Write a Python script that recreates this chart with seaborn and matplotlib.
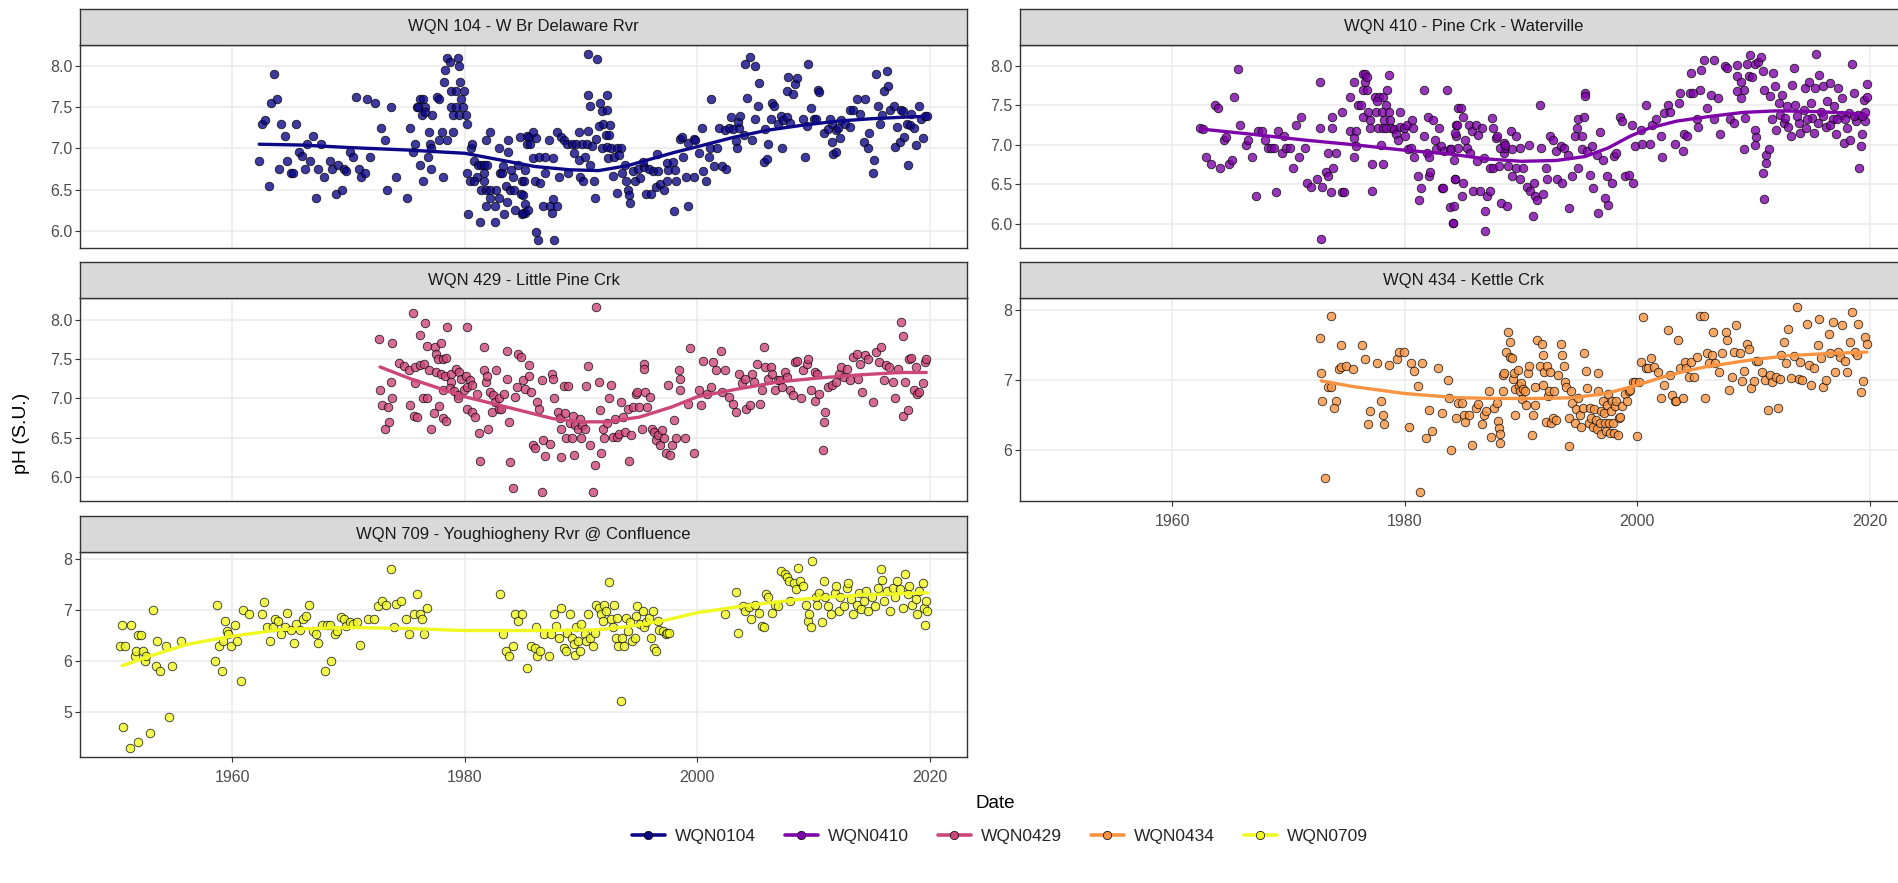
import numpy as np
import pandas as pd
import seaborn as sns
import matplotlib.pyplot as plt
from matplotlib.lines import Line2D
from matplotlib.ticker import FormatStrFormatter

# ---- data (year, pH) ----
wqn0104_pts = [
    (1963.6,7.90),(1963.3,7.55),(1963.8,7.60),(1962.5,7.30),(1962.8,7.34),(1962.3,6.85),(1963.1,6.54),(1964.2,7.30),
    (1964.5,7.15),(1964.0,6.75),(1964.7,6.85),(1965.0,6.70),(1965.2,6.70),(1965.5,7.30),(1965.7,6.95),(1966.0,6.91),
    (1966.2,6.75),(1966.4,7.05),(1966.7,6.85),(1966.9,7.15),(1967.2,6.40),(1967.4,6.75),(1967.6,7.05),(1967.9,6.65),
    (1968.4,6.85),(1968.6,6.75),(1968.9,6.45),(1969.4,6.49),(1969.1,6.80),(1969.6,6.75),(1969.8,6.72),(1970.1,6.95),
    (1970.4,6.90),(1970.6,7.62),(1970.9,6.75),(1971.1,6.65),(1971.4,6.70),(1971.6,7.60),(1971.8,6.90),(1972.3,7.55),
    (1972.8,7.25),(1973.1,7.10),(1973.3,6.49),(1973.6,7.50),(1974.1,6.65),(1975.0,6.40),(1975.3,7.25),(1975.5,6.95),
    (1975.7,7.05),(1975.9,7.50),(1976.1,7.60),(1976.4,7.60),(1976.6,7.50),(1976.0,7.50),(1976.3,7.40),(1976.6,7.44),
    (1976.1,6.80),(1976.4,6.60),(1976.8,6.90),(1976.9,7.20),(1977.0,7.05),(1977.1,7.01),(1977.1,6.75),(1977.2,7.40),
    (1977.6,7.62),(1977.8,7.60),(1977.8,7.10),(1978.0,7.20),(1978.1,6.65),(1978.2,7.80),(1978.3,7.95),(1978.5,8.10),
    (1978.7,8.05),(1979.4,8.10),(1979.5,8.00),(1978.5,7.10),(1978.8,7.70),(1979.2,7.70),(1979.6,7.80),(1979.9,7.70),
    (1978.8,7.50),(1979.2,7.50),(1979.8,7.50),(1979.0,7.40),(1979.5,7.40),(1980.1,7.40),(1979.0,7.20),(1979.7,7.60),
    (1980.2,7.30),(1980.2,6.70),(1980.4,6.60),(1980.3,6.20),(1980.5,7.00),(1980.6,7.05),(1980.8,6.85),(1981.1,6.80),
    (1981.4,6.80),(1981.6,6.80),(1981.9,6.80),(1981.0,6.65),(1980.8,6.60),(1981.3,6.10),(1982.6,6.10),(1981.4,6.49),
    (1981.8,6.49),(1982.2,6.49),(1982.7,6.49),(1981.6,6.70),(1981.6,6.60),(1981.8,7.10),(1982.2,7.20),(1981.8,6.30),
    (1982.2,6.40),(1982.6,6.30),(1982.9,6.40),(1983.4,6.20),(1982.9,7.00),(1983.0,6.70),(1983.2,6.70),(1983.3,6.78),
    (1983.5,6.54),(1983.9,6.49),(1984.2,6.49),(1983.7,7.10),(1983.7,6.95),(1983.6,6.35),(1984.3,6.25),(1984.8,6.45),
    (1984.1,6.65),(1984.0,6.74),(1984.6,6.80),(1984.9,6.60),(1985.2,6.74),(1984.7,7.14),(1985.3,7.15),(1985.3,7.05),
    (1984.9,6.20),(1985.2,6.21),(1985.0,6.43),(1985.2,6.33),(1985.0,6.21),(1985.4,6.25),(1986.1,5.99),(1986.3,5.89),
    (1987.7,5.89),(1986.7,6.30),(1987.3,6.30),(1987.9,6.30),(1987.5,6.21),(1987.6,6.39),(1985.5,7.14),(1985.85,7.20),
    (1986.1,7.12),(1985.6,7.05),(1985.1,6.60),(1986.0,6.60),(1986.5,6.58),(1985.85,6.88),(1986.4,6.89),(1986.9,6.90),
    (1987.6,6.88),(1987.2,7.10),(1987.9,7.20),(1988.3,7.14),(1988.5,7.10),(1986.9,6.70),(1988.1,6.65),(1988.9,6.70),
    (1988.8,7.05),(1989.2,7.05),(1989.6,7.05),(1990.1,7.05),(1990.5,7.05),(1990.9,7.03),(1989.35,6.94),(1989.8,6.86),
    (1990.35,6.90),(1990.8,6.80),(1989.8,7.20),(1990.6,7.21),(1989.9,6.65),(1990.15,6.60),(1991.1,6.60),(1991.2,6.40),
    (1990.55,8.15),(1991.4,8.09),(1990.6,7.65),(1992.2,7.65),(1990.8,7.51),(1991.6,7.55),(1991.8,7.45),(1992.2,7.47),
    (1991.5,7.27),(1991.9,7.30),(1992.5,7.28),(1991.3,7.11),(1992.1,7.16),(1992.4,7.16),(1991.8,7.00),(1992.2,7.02),
    (1992.6,7.00),(1993.1,7.00),(1993.4,7.00),(1992.3,6.88),(1992.8,6.90),(1993.3,6.92),(1992.7,6.66),(1993.1,6.46),
    (1993.5,6.70),(1993.8,6.80),(1993.9,6.60),(1994.0,6.49),(1994.1,6.43),(1994.2,6.34),(1994.5,6.72),(1994.9,6.75),
    (1995.4,6.77),(1995.8,6.75),(1996.2,6.72),(1996.6,6.73),(1994.65,6.60),(1995.1,6.64),(1995.6,6.45),(1996.0,6.45),
    (1996.4,6.53),(1996.8,6.57),(1997.1,6.49),(1995.3,6.83),(1996.5,6.93),(1997.4,6.82),(1997.9,6.83),(1997.5,6.74),
    (1998.1,6.74),(1997.4,6.60),(1998.2,6.60),(1998.0,6.24),(1999.2,6.30),(1998.5,7.11),(1998.7,7.14),(1999.2,7.06),
    (1999.7,7.11),(1999.8,7.10),(1998.8,6.90),(1999.0,6.65),(1999.7,6.65),(2000.4,7.25),(2000.1,6.94),(2000.5,6.72),
    (2000.7,6.60),(2001.0,6.90),(2001.1,7.00),(2001.4,6.79),(2001.7,7.00),(2002.1,6.79),(2002.5,6.75),(2001.2,7.60),
    (2001.9,7.25),(2002.4,7.22),(2002.7,7.25),(2003.1,7.23),(2003.6,7.25),(2002.9,7.38),(2003.5,7.32),(2003.7,7.39),
    (2003.3,7.09),(2003.4,7.00),(2004.1,8.02),(2004.5,8.11),(2005.0,8.00),(2004.3,7.61),(2004.7,7.10),(2004.0,7.16),
    (2005.0,7.36),(2005.2,7.52),(2005.3,7.79),(2005.7,6.83),(2006.0,6.87),(2006.1,7.05),(2005.8,7.24),(2006.3,7.36),
    (2006.4,7.55),(2006.6,7.51),(2006.9,7.30),(2007.2,7.39),(2007.4,7.34),(2007.7,7.38),(2008.0,7.31),(2007.3,7.01),
    (2007.7,7.70),(2008.2,7.66),(2008.4,7.78),(2007.8,7.87),(2008.6,7.86),(2009.1,7.36),(2009.4,7.27),(2009.8,7.49),
    (2010.0,7.36),(2010.2,7.36),(2009.3,6.90),(2009.5,8.02),(2010.4,7.71),(2010.5,7.69),(2010.9,7.19),(2011.2,7.24),
    (2011.6,7.30),(2011.4,7.36),(2011.9,7.22),(2012.1,7.25),(2012.4,7.35),(2012.7,7.30),(2013.1,7.26),(2011.6,7.08),
    (2011.7,6.93),(2011.9,6.95),(2012.3,7.13),(2013.1,7.47),(2013.4,7.46),(2013.7,7.60),(2014.0,7.42),(2014.4,7.60),
    (2014.3,7.08),(2014.7,7.00),(2014.8,7.19),(2015.1,6.70),(2015.2,6.86),(2015.4,7.90),(2016.3,7.94),(2015.5,7.51),
    (2015.7,7.30),(2015.9,7.40),(2016.1,7.70),(2016.4,7.76),(2016.6,7.46),(2016.9,7.51),(2017.2,7.26),(2017.5,7.46),
    (2017.7,7.45),(2017.0,7.02),(2017.4,7.08),(2017.8,7.14),(2018.1,6.80),(2018.0,7.30),(2018.3,7.28),(2018.6,7.25),
    (2018.4,7.42),(2018.8,7.04),(2019.4,7.12),(2019.1,7.51),(2019.2,7.36),(2019.6,7.39),(2019.8,7.39),
]

wqn0410_pts = [
    (1962.4,7.21),(1962.6,7.20),(1962.9,6.85),(1963.3,6.75),(1964.1,6.70),(1963.7,7.51),(1963.9,7.46),(1964.4,7.06),
    (1964.6,7.10),(1964.9,6.75),(1965.1,6.81),(1965.3,7.60),(1965.6,7.96),(1965.8,7.25),(1966.3,7.00),(1966.5,7.06),
    (1966.8,6.85),(1967.2,6.35),(1967.4,7.17),(1967.7,7.17),(1968.0,7.06),(1968.2,6.96),(1968.5,6.96),(1968.7,6.96),
    (1968.9,6.40),(1969.1,7.17),(1969.6,7.11),(1969.4,6.90),(1969.8,6.96),(1970.1,6.96),(1970.4,6.70),(1970.6,7.25),
    (1971.1,7.35),(1970.9,6.85),(1971.4,6.96),(1971.6,6.51),(1971.9,6.46),(1972.4,6.56),(1972.9,6.46),(1972.7,7.80),
    (1972.7,7.21),(1972.8,5.81),(1973.2,6.66),(1973.4,6.60),(1973.8,6.70),(1973.4,6.90),(1974.1,6.90),(1973.6,6.40),
    (1974.6,6.40),(1974.8,6.40),(1973.7,7.35),(1973.7,7.21),(1974.6,7.41),(1975.3,7.61),(1975.6,7.80),(1975.3,7.17),
    (1975.8,7.17),(1975.6,7.08),(1975.6,6.85),(1975.8,6.99),(1976.0,7.51),(1976.2,7.51),(1976.4,7.90),(1976.6,7.90),
    (1976.6,7.80),(1976.7,7.86),(1976.4,7.70),(1976.7,7.70),(1976.4,7.35),(1976.8,7.41),(1977.0,7.31),(1977.0,7.21),
    (1977.2,6.41),(1977.2,6.75),(1978.1,6.75),(1977.4,7.61),(1977.8,7.61),(1978.1,7.61),(1977.6,7.55),(1978.4,7.51),
    (1977.5,7.41),(1978.0,7.41),(1978.6,7.41),(1977.9,7.00),(1977.7,7.21),(1978.1,7.21),(1978.4,7.21),(1978.8,7.21),
    (1978.5,7.70),(1978.6,7.88),(1978.2,7.31),(1978.7,7.31),(1979.1,7.20),(1979.6,7.41),(1979.6,7.22),(1979.2,7.13),
    (1979.4,7.06),(1979.9,7.21),(1980.0,7.11),(1980.2,7.25),(1980.6,7.31),(1980.7,7.21),(1980.3,6.94),(1980.5,6.96),
    (1980.8,6.85),(1981.1,6.60),(1981.2,6.30),(1981.4,6.45),(1981.6,7.70),(1981.6,7.11),(1982.0,7.35),(1982.1,6.60),
    (1982.2,6.66),(1982.4,7.31),(1982.6,7.06),(1982.9,7.21),(1983.2,6.45),(1983.3,6.45),(1983.6,7.70),(1983.9,6.21),
    (1984.1,6.01),(1984.2,6.81),(1984.3,6.56),(1984.4,7.11),(1984.6,7.46),(1984.4,7.25),(1981.9,6.89),(1982.1,6.85),
    (1982.7,6.94),(1983.1,6.99),(1983.4,6.92),(1983.9,6.94),(1984.0,6.94),(1984.3,7.15),(1984.5,7.25),(1984.8,7.46),
    (1985.0,7.35),(1985.2,7.06),(1985.5,7.25),(1985.8,7.17),(1986.1,7.25),(1986.3,7.12),(1986.6,7.21),(1984.3,6.56),
    (1985.0,6.51),(1984.2,6.22),(1984.1,6.01),(1984.9,6.35),(1985.9,6.41),(1986.5,6.41),(1987.1,6.35),(1987.3,6.41),
    (1984.6,6.96),(1985.3,6.96),(1985.6,6.90),(1986.2,6.79),(1986.8,6.83),(1987.3,6.70),(1987.6,6.70),(1988.1,6.73),
    (1988.5,6.89),(1988.6,6.96),(1988.9,6.73),(1989.2,6.94),(1989.6,6.70),(1989.9,6.56),(1990.2,6.70),(1990.5,6.47),
    (1990.8,6.41),(1991.1,6.52),(1991.2,6.35),(1991.4,6.30),(1986.9,6.16),(1986.9,5.90),(1987.5,7.34),(1987.6,7.21),
    (1987.8,7.08),(1987.9,7.11),(1988.2,6.96),(1988.5,7.02),(1988.6,7.00),(1988.3,6.26),(1988.8,6.22),(1989.1,7.17),
    (1989.6,7.11),(1989.2,6.60),(1989.9,6.96),(1990.7,7.00),(1991.0,6.10),(1991.6,7.51),(1991.7,6.96),(1992.1,6.70),
    (1992.5,7.11),(1992.7,7.06),(1993.0,6.92),(1993.4,6.98),(1993.7,6.96),(1994.0,6.87),(1994.4,6.60),(1991.9,6.37),
    (1992.2,6.56),(1993.1,6.56),(1993.5,6.51),(1994.1,6.20),(1994.6,7.11),(1994.8,7.21),(1994.9,7.32),(1995.2,7.11),
    (1995.4,7.35),(1995.5,7.65),(1995.5,7.62),(1994.9,6.70),(1995.2,6.94),(1995.7,6.92),(1995.9,6.61),(1996.1,6.98),
    (1996.2,6.45),(1996.5,6.87),(1996.8,7.16),(1997.0,6.81),(1997.2,6.32),(1997.4,6.60),(1997.5,6.24),(1997.8,6.51),
    (1998.0,6.86),(1998.2,6.90),(1998.5,7.35),(1998.7,7.30),(1998.9,6.60),(1999.3,6.61),(1999.6,6.51),(1999.5,7.25),
    (1996.6,6.14),(1999.8,6.98),(2000.3,7.19),(2000.4,7.01),(2000.7,7.51),(2001.1,7.01),(2001.3,7.25),(2001.6,7.32),
    (2002.0,7.11),(2002.1,6.85),(2002.3,7.40),(2002.6,7.51),(2002.8,7.42),(2003.2,7.01),(2003.6,7.53),(2003.7,7.65),
    (2003.9,6.92),(2004.0,7.13),(2004.3,7.11),(2004.5,7.65),(2004.8,7.65),(2005.1,7.32),(2005.2,7.23),(2005.4,7.69),
    (2006.0,7.46),(2006.3,7.63),(2006.6,7.32),(2004.6,7.91),(2005.5,7.95),(2005.7,8.07),(2006.6,8.08),(2006.9,7.59),
    (2007.1,7.13),(2007.5,8.00),(2007.7,7.97),(2008.0,7.32),(2008.3,7.28),(2008.6,8.01),(2008.6,7.87),(2008.9,7.80),
    (2009.2,7.70),(2009.4,8.03),(2009.6,7.87),(2009.7,8.14),(2009.9,7.86),(2010.1,8.03),(2010.4,8.05),(2010.6,8.11),
    (2010.8,7.93),(2010.9,7.70),(2011.4,7.62),(2011.7,7.91),(2011.8,7.75),(2009.2,6.94),(2010.1,7.19),(2010.2,7.10),
    (2010.1,7.00),(2010.8,6.64),(2010.9,6.31),(2011.1,6.77),(2011.1,6.87),(2011.3,6.94),(2008.6,7.68),(2008.9,7.59),
    (2009.3,7.34),(2011.6,7.32),(2011.9,7.19),(2012.2,7.53),(2012.45,7.63),(2012.6,7.27),(2012.9,7.49),(2013.0,7.22),
    (2013.2,7.11),(2013.3,7.76),(2013.5,7.97),(2013.6,7.51),(2013.9,7.27),(2014.0,7.15),(2014.3,7.44),(2014.4,7.72),
    (2014.5,7.21),(2014.75,7.80),(2014.9,7.53),(2015.0,7.34),(2015.2,7.15),(2015.3,7.72),(2015.4,8.15),(2015.6,7.89),
    (2015.8,7.42),(2016.0,7.74),(2016.2,7.23),(2016.3,7.55),(2016.6,7.78),(2016.8,7.32),(2016.9,7.49),(2017.1,7.13),
    (2017.3,7.72),(2017.5,7.38),(2017.6,7.59),(2017.8,7.02),(2018.0,7.21),(2018.2,7.40),(2018.3,7.06),(2018.5,8.03),
    (2018.6,7.65),(2018.8,7.30),(2019.0,7.38),(2019.2,6.98),(2019.3,7.13),(2019.05,6.70),(2019.5,7.57),(2019.6,7.30),
    (2019.8,7.77),(2019.8,7.60),(2012.3,7.38),(2012.7,7.34),(2013.7,7.36),(2014.6,7.32),(2015.5,7.27),(2016.0,7.36),
    (2016.6,7.25),(2017.2,7.32),(2017.9,7.32),(2018.6,7.36),(2019.35,7.36),(2019.6,7.42),
]

wqn0429_pts = [
    (1972.6,7.76),(1973.7,7.71),(1972.7,7.10),(1972.9,6.91),(1973.1,6.61),(1973.4,6.89),(1973.5,6.70),(1973.7,7.00),
    (1973.6,7.21),(1974.3,7.45),(1974.8,7.41),(1975.2,7.36),(1975.7,7.40),(1976.1,7.42),(1976.5,7.44),(1976.9,7.36),
    (1975.5,8.09),(1976.6,7.96),(1976.1,7.81),(1976.7,7.67),(1977.4,7.65),(1977.9,7.71),(1978.5,7.91),(1980.2,7.91),
    (1975.3,6.91),(1975.6,6.78),(1975.9,6.76),(1976.4,7.00),(1976.7,7.00),(1977.1,6.61),(1977.3,6.81),(1977.8,6.90),
    (1978.1,6.75),(1978.4,6.71),(1975.7,7.19),(1977.5,7.57),(1977.7,7.50),(1978.1,7.50),(1978.4,7.51),(1977.5,7.33),
    (1977.9,7.31),(1978.3,7.29),(1978.8,7.31),(1978.8,7.21),(1979.2,7.38),(1979.5,7.33),(1979.7,7.25),(1980.1,7.29),
    (1980.4,7.23),(1978.1,7.10),(1978.7,7.13),(1979.1,7.09),(1979.4,7.04),(1979.9,7.10),(1980.2,7.14),(1980.6,7.17),
    (1979.4,7.00),(1980.2,6.87),(1980.6,6.83),(1980.9,6.76),(1981.0,7.06),(1981.2,6.56),(1981.3,6.20),(1981.6,7.65),
    (1981.65,7.36),(1981.8,7.21),(1981.9,7.29),(1982.0,6.61),(1982.2,7.08),(1982.3,6.83),(1982.4,7.04),(1982.6,6.95),
    (1982.9,7.00),(1982.9,6.87),(1983.1,6.87),(1982.7,7.36),(1983.6,7.60),(1983.6,7.25),(1983.4,7.06),(1983.8,6.70),
    (1983.9,6.19),(1984.1,5.85),(1984.3,7.02),(1984.5,7.14),(1984.6,7.57),(1984.8,7.53),(1985.0,7.23),(1985.2,7.12),
    (1985.5,7.29),(1985.5,7.42),(1985.7,7.08),(1985.9,6.41),(1986.05,6.36),(1986.2,6.95),(1986.4,6.87),(1986.6,7.23),
    (1986.75,6.47),(1986.9,6.27),(1987.3,6.42),(1987.5,7.31),(1987.6,7.25),(1987.7,7.00),(1988.0,6.83),(1988.2,6.75),
    (1988.3,6.61),(1988.5,7.16),(1988.6,6.81),(1988.9,7.16),(1989.0,6.68),(1989.3,6.78),(1989.5,6.66),(1989.7,6.61),
    (1989.9,6.74),(1990.1,6.66),(1990.3,6.61),(1986.6,5.81),(1988.3,6.25),(1988.7,6.49),(1989.2,6.50),(1989.4,6.28),
    (1990.0,6.50),(1990.4,7.16),(1990.6,7.41),(1990.8,6.40),(1991.0,5.81),(1991.15,6.15),(1991.3,8.16),(1991.5,7.21),
    (1991.6,6.85),(1991.7,6.30),(1991.85,6.61),(1992.0,6.49),(1992.2,6.68),(1992.4,7.00),(1992.55,7.17),(1992.7,6.51),
    (1992.9,6.74),(1993.1,6.51),(1993.3,6.55),(1993.4,6.95),(1993.6,6.76),(1993.8,6.57),(1994.0,6.87),(1994.1,6.20),
    (1994.3,6.53),(1994.5,6.89),(1994.7,7.06),(1994.8,7.08),(1995.0,6.89),(1995.2,6.61),(1995.4,7.44),(1995.4,7.37),
    (1995.5,7.08),(1995.7,6.89),(1995.9,7.02),(1996.1,6.61),(1996.25,6.57),(1996.4,6.47),(1996.6,6.53),(1996.8,6.40),
    (1996.95,6.59),(1997.1,6.49),(1997.3,6.30),(1997.5,7.17),(1997.65,6.28),(1997.8,6.40),(1998.0,6.72),(1998.2,6.49),
    (1998.4,7.36),(1998.5,7.25),(1998.5,7.11),(1998.9,6.50),(1999.2,6.93),(1999.4,7.64),(1999.7,6.30),(2000.1,7.10),
    (2000.3,6.91),(2000.5,7.48),(2000.8,7.06),(2001.2,7.14),(2001.35,7.46),(2001.6,7.36),(2002.0,7.61),(2002.1,7.08),
    (2002.4,7.36),(2002.75,7.02),(2003.1,6.93),(2003.3,6.83),(2003.6,7.31),(2003.8,7.19),(2004.1,7.25),(2004.2,6.87),
    (2004.5,6.91),(2004.7,7.31),(2004.9,7.21),(2005.15,7.44),(2005.4,6.93),(2005.6,7.10),(2005.7,7.65),(2005.85,7.40),
    (2006.1,7.25),(2006.3,7.40),(2006.45,7.31),(2006.7,7.10),(2006.9,7.23),(2007.15,7.23),(2007.3,7.14),(2007.5,7.33),
    (2007.7,7.27),(2008.0,7.10),(2008.2,7.04),(2008.4,7.46),(2008.6,7.48),(2008.9,7.00),(2009.1,7.36),(2009.4,7.44),
    (2009.5,7.50),(2009.8,7.10),(2010.1,6.97),(2010.15,7.33),(2010.3,7.31),(2010.5,7.06),(2010.8,6.34),(2010.9,6.70),
    (2011.0,6.83),(2011.2,7.14),(2011.55,7.17),(2011.9,7.21),(2012.2,7.31),(2012.4,7.40),(2012.6,7.27),(2012.9,7.38),
    (2013.1,7.23),(2013.4,7.53),(2013.7,7.57),(2013.8,7.25),(2014.0,7.44),(2014.2,7.08),(2014.4,7.55),(2014.7,7.50),
    (2015.1,6.95),(2015.35,7.59),(2015.6,7.46),(2015.8,7.65),(2016.05,7.23),(2016.2,7.42),(2016.5,7.40),(2016.8,7.21),
    (2017.0,7.00),(2017.25,7.38),(2017.5,7.98),(2017.7,7.79),(2017.7,6.78),(2017.9,7.21),(2018.1,6.85),(2018.2,7.50),
    (2018.4,7.51),(2018.6,7.10),(2018.8,7.40),(2018.9,7.06),(2019.1,7.08),(2019.4,7.19),(2019.6,7.46),(2019.7,7.50),
]

wqn0434_pts = [
    (1972.7,7.60),(1973.6,7.91),(1972.8,7.10),(1973.4,6.91),(1973.65,6.91),(1972.9,6.71),(1974.1,6.71),(1973.9,6.60),
    (1973.1,5.61),(1974.3,7.16),(1974.5,7.19),(1974.9,7.20),(1974.5,7.50),(1975.5,7.16),(1976.3,7.50),(1976.6,7.30),
    (1977.0,6.56),(1976.8,6.37),(1977.6,7.25),(1977.9,6.71),(1978.1,6.50),(1978.2,6.37),(1978.6,7.22),(1979.3,7.30),
    (1979.5,7.40),(1979.9,7.40),(1981.3,5.41),(1980.36,6.33),(1980.5,7.24),(1980.8,7.13),(1981.1,6.92),(1981.5,7.25),
    (1981.8,6.18),(1982.1,6.58),(1982.3,6.28),(1982.85,7.18),(1983.2,6.53),(1983.7,7.00),(1983.8,6.74),(1984.0,6.01),
    (1984.4,6.46),(1984.6,6.67),(1984.9,6.67),(1985.1,6.51),(1985.2,6.40),(1985.5,6.50),(1985.8,6.08),(1986.1,6.60),
    (1986.3,6.66),(1986.6,6.37),(1986.8,6.50),(1987.0,6.56),(1987.2,6.84),(1987.4,6.19),(1987.7,6.60),(1987.95,6.67),
    (1988.0,6.42),(1988.1,6.32),(1988.2,6.24),(1988.2,6.11),(1988.4,7.07),(1988.55,7.10),(1988.45,6.84),(1988.7,7.40),
    (1988.9,7.68),(1989.0,7.54),(1989.0,7.33),(1989.2,7.31),(1989.3,7.02),(1989.4,7.10),(1989.45,6.50),(1989.5,6.88),
    (1989.7,7.14),(1989.8,6.92),(1989.9,6.84),(1990.0,6.96),(1990.1,6.73),(1990.2,6.88),(1990.3,6.84),(1990.45,6.65),
    (1990.6,7.10),(1990.7,7.20),(1990.9,6.22),(1991.05,6.51),(1991.2,6.65),(1991.2,6.91),(1991.4,7.57),(1991.6,7.20),
    (1991.8,7.52),(1991.9,7.36),(1991.9,6.93),(1992.0,7.12),(1992.1,6.41),(1992.2,7.20),(1992.3,6.78),(1992.4,6.84),
    (1992.5,7.12),(1992.6,6.39),(1992.7,6.46),(1992.8,6.84),(1993.0,6.44),(1993.2,7.08),(1993.4,7.52),(1993.5,7.36),
    (1993.65,7.20),(1993.8,6.98),(1993.9,6.91),(1994.1,6.06),(1994.15,6.46),(1994.3,6.84),(1994.4,6.67),(1994.6,6.39),
    (1994.7,6.59),(1994.9,6.74),(1995.1,6.51),(1995.15,6.34),(1995.3,6.60),(1995.4,7.39),(1995.6,7.13),(1995.7,6.89),
    (1995.8,6.39),(1995.9,6.60),(1996.0,6.46),(1996.15,6.34),(1996.3,6.59),(1996.4,6.44),(1996.5,6.31),(1996.6,7.10),
    (1996.65,6.84),(1996.75,6.39),(1996.9,6.56),(1996.9,6.24),(1997.0,6.70),(1997.1,6.53),(1997.2,6.39),(1997.3,6.27),
    (1997.4,6.65),(1997.5,6.81),(1997.6,6.39),(1997.65,6.25),(1997.7,6.56),(1997.8,6.70),(1997.9,6.39),(1998.0,6.25),
    (1998.1,6.63),(1998.2,6.70),(1998.3,6.22),(1998.4,6.46),(1998.5,6.48),(1998.7,6.63),(1998.9,6.81),(1999.1,6.70),
    (1999.25,6.84),(1999.4,6.86),(1999.6,6.97),(1999.8,6.97),(2000.0,6.20),(2000.1,6.97),(2000.3,7.26),(2000.5,7.90),
    (2000.7,7.17),(2000.9,7.17),(2001.2,7.31),(2001.4,7.19),(2001.75,7.12),(2002.0,6.75),(2002.3,6.93),(2002.6,7.71),
    (2002.8,7.07),(2003.0,6.79),(2003.2,6.70),(2003.35,6.71),(2003.5,7.57),(2003.7,7.17),(2003.9,6.74),(2004.1,7.26),
    (2004.2,7.17),(2004.4,7.05),(2004.6,7.26),(2004.85,7.05),(2005.1,7.33),(2005.4,7.92),(2005.7,7.92),(2005.85,6.74),
    (2006.0,7.38),(2006.2,7.24),(2006.4,7.36),(2006.55,7.68),(2006.7,7.24),(2007.0,7.12),(2007.3,7.38),(2007.6,7.68),
    (2007.7,7.57),(2007.9,6.86),(2008.1,7.05),(2008.3,7.40),(2008.5,7.78),(2008.8,7.38),(2009.0,6.99),(2009.2,7.13),
    (2009.4,7.52),(2009.6,7.44),(2009.8,6.89),(2010.05,6.99),(2010.2,7.28),(2010.4,7.28),(2010.7,7.12),(2011.0,7.00),
    (2011.2,6.58),(2011.4,7.07),(2011.6,6.98),(2011.9,7.05),(2012.1,6.60),(2012.3,7.02),(2012.4,7.36),(2012.6,7.54),
    (2012.8,7.24),(2013.0,7.73),(2013.2,7.03),(2013.5,7.35),(2013.7,8.04),(2013.9,7.02),(2014.0,7.26),(2014.2,7.00),
    (2014.6,7.80),(2014.8,7.22),(2014.9,6.93),(2015.2,7.17),(2015.5,7.50),(2015.65,7.87),(2015.8,7.31),(2016.0,6.91),
    (2016.2,7.00),(2016.5,7.66),(2016.6,7.38),(2016.8,7.83),(2017.0,7.12),(2017.25,7.40),(2017.4,7.33),(2017.6,7.78),
    (2017.9,7.28),(2018.0,7.12),(2018.3,7.55),(2018.5,7.97),(2018.7,7.40),(2018.9,7.36),(2019.0,7.80),(2019.2,6.83),
    (2019.4,6.99),(2019.6,7.61),(2019.75,7.52),
]

wqn0709_pts = [
    (1950.3,6.29),(1950.5,6.70),(1950.75,6.29),(1950.6,4.70),(1951.2,4.29),(1951.3,6.70),(1951.6,6.09),(1951.7,6.19),
    (1951.9,6.50),(1951.9,4.41),(1952.1,6.50),(1952.3,6.19),(1952.5,5.99),(1952.6,6.10),(1952.9,4.59),(1953.2,6.99),
    (1953.4,5.90),(1953.5,6.39),(1953.8,5.80),(1954.25,6.29),(1954.5,4.90),(1954.8,5.90),(1955.6,6.39),(1958.5,5.99),
    (1958.7,7.10),(1958.8,6.29),(1959.1,5.80),(1959.2,6.39),(1959.35,6.78),(1959.5,6.59),(1959.6,6.52),(1959.9,6.29),
    (1960.2,6.70),(1960.4,6.39),(1960.9,6.99),(1960.7,5.60),(1961.4,6.91),(1962.5,6.91),(1962.7,7.14),(1963.0,6.65),
    (1963.2,6.39),(1963.5,6.65),(1963.7,6.81),(1963.9,6.78),(1964.2,6.52),(1964.5,6.65),(1964.7,6.94),(1965.0,6.61),
    (1965.3,6.35),(1965.5,6.71),(1965.8,6.61),(1966.1,6.81),(1966.3,6.88),(1966.6,7.10),(1966.9,6.58),(1967.2,6.52),
    (1967.4,6.35),(1967.7,6.70),(1968.0,5.80),(1968.1,6.70),(1968.4,6.70),(1968.5,5.99),(1968.8,6.52),(1969.0,6.58),
    (1969.3,6.86),(1969.6,6.81),(1969.8,6.68),(1970.1,6.75),(1970.4,6.71),(1970.75,6.75),(1971.0,6.30),(1971.7,6.81),
    (1972.15,6.81),(1972.5,7.07),(1972.9,7.17),(1973.2,7.10),(1973.6,7.79),(1973.9,6.66),(1974.1,7.12),(1974.5,7.17),
    (1974.9,6.81),(1975.2,6.52),(1975.6,6.91),(1975.9,7.30),(1976.1,6.91),(1976.3,6.81),(1976.5,6.52),(1976.7,7.03),
    (1983.0,7.30),(1983.3,6.52),(1983.5,6.19),(1983.8,6.09),(1984.1,6.29),(1984.35,6.91),(1984.6,6.78),(1984.9,6.91),
    (1985.3,5.85),(1985.7,6.29),(1986.0,6.25),(1986.2,6.09),(1986.5,6.19),(1986.1,6.65),(1986.8,6.52),(1987.2,6.09),
    (1987.4,6.52),(1987.7,6.91),(1987.85,6.68),(1988.1,6.45),(1988.3,7.04),(1988.5,6.25),(1988.7,6.19),(1988.8,6.55),
    (1989.0,6.91),(1989.2,6.45),(1989.35,6.32),(1989.5,6.12),(1989.6,6.65),(1989.7,6.39),(1989.9,6.19),(1990.0,6.71),
    (1990.3,6.52),(1990.4,6.39),(1990.6,6.91),(1990.8,6.45),(1991.0,6.29),(1991.2,6.55),(1991.3,7.10),(1991.5,7.04),
    (1991.7,6.91),(1991.9,6.78),(1992.0,7.10),(1992.15,6.97),(1992.4,7.55),(1992.6,6.81),(1992.7,6.65),(1992.85,7.10),
    (1993.0,6.45),(1993.1,6.84),(1993.2,6.29),(1993.4,5.21),(1993.5,6.45),(1993.65,6.29),(1993.9,6.84),(1994.0,6.58),
    (1994.2,6.75),(1994.4,6.39),(1994.6,6.45),(1994.7,6.88),(1994.8,7.07),(1995.1,6.71),(1995.3,6.97),(1995.4,6.65),
    (1995.6,6.75),(1995.8,6.84),(1996.0,6.45),(1996.2,6.97),(1996.3,6.25),(1996.45,6.19),(1996.6,6.78),(1996.7,6.61),
    (1997.0,6.58),(1997.3,6.52),(1997.4,6.55),(1997.6,6.55),(2002.4,6.91),(2003.3,7.35),(2003.5,6.55),(2003.9,7.07),
    (2004.1,6.97),(2004.4,7.05),(2004.6,6.81),(2005.0,7.10),(2005.3,6.94),(2005.6,6.68),(2005.7,6.65),(2005.9,7.30),
    (2006.1,7.24),(2006.4,6.94),(2006.7,7.10),(2006.9,7.07),(2007.2,7.76),(2007.5,7.69),(2007.7,7.63),(2007.85,7.56),
    (2008.0,7.17),(2008.3,7.53),(2008.5,7.40),(2008.7,7.82),(2008.8,7.56),(2009.1,7.46),(2009.35,7.10),(2009.5,6.78),
    (2009.6,6.91),(2009.8,6.65),(2009.9,7.95),(2010.2,7.24),(2010.3,7.10),(2010.5,7.33),(2010.7,6.75),(2010.9,7.56),
    (2011.0,7.24),(2011.2,7.07),(2011.5,6.91),(2011.8,7.33),(2011.9,7.46),(2012.15,6.97),(2012.3,7.24),(2012.6,7.07),
    (2012.85,7.43),(2013.0,7.53),(2013.2,7.20),(2013.4,6.91),(2013.7,7.10),(2013.9,7.33),(2014.1,7.01),(2014.3,7.17),
    (2014.5,7.37),(2014.7,6.97),(2015.0,7.24),(2015.3,7.07),(2015.5,7.43),(2015.8,7.79),(2015.9,7.59),(2016.1,7.17),
    (2016.3,7.37),(2016.6,6.97),(2016.8,7.43),(2017.0,7.24),(2017.15,7.56),(2017.4,7.40),(2017.7,7.04),(2017.85,7.69),
    (2018.1,7.30),(2018.2,7.46),(2018.5,7.10),(2018.8,7.20),(2018.9,6.91),(2019.1,7.37),(2019.4,7.53),(2019.5,7.04),
    (2019.6,6.70),(2019.7,7.17),(2019.8,6.97),
]

# smoothed trend lines
trend_0104_year = [1962.3, 1966, 1970, 1975, 1980, 1983, 1986, 1989, 1991.5, 1994, 1996, 1998, 2000, 2003, 2006, 2009, 2012, 2015, 2018, 2019.8]
trend_0104_ph = [7.05, 7.04, 7.01, 6.98, 6.94, 6.86, 6.78, 6.74, 6.73, 6.79, 6.87, 6.95, 7.02, 7.13, 7.22, 7.28, 7.33, 7.36, 7.38, 7.39]
trend_0410_year = [1962.4, 1967, 1971.3, 1975.6, 1980, 1984, 1987, 1990, 1993, 1995.5, 1997.5, 1999.4, 2001, 2003.4, 2006.3, 2009.1, 2012, 2015.5, 2018.3, 2019.8]
trend_0410_ph = [7.20, 7.13, 7.06, 7.00, 6.93, 6.88, 6.82, 6.79, 6.80, 6.85, 6.96, 7.11, 7.21, 7.30, 7.36, 7.41, 7.43, 7.42, 7.40, 7.37]
trend_0429_year = [1972.7, 1975.3, 1980, 1984.1, 1987.6, 1990.1, 1992.2, 1995, 1997.8, 2000, 2003.5, 2007, 2010.5, 2014, 2017.5, 2019.7]
trend_0429_ph = [7.40, 7.25, 7.02, 6.87, 6.74, 6.70, 6.70, 6.76, 6.89, 7.02, 7.12, 7.21, 7.26, 7.30, 7.33, 7.33]
trend_0434_year = [1972.8, 1975.5, 1980, 1984.5, 1988, 1991.6, 1994.4, 1997.3, 2000, 2002.3, 2004.4, 2005.9, 2009.4, 2013, 2016.5, 2019.75]
trend_0434_ph = [6.99, 6.91, 6.81, 6.75, 6.74, 6.74, 6.75, 6.81, 6.93, 7.05, 7.14, 7.19, 7.28, 7.35, 7.38, 7.40]
trend_0709_year = [1950.5, 1952.9, 1956.1, 1960, 1964.2, 1970, 1975, 1980, 1985.7, 1991.1, 1993.8, 1997, 2000, 2004.5, 2008.8, 2014.2, 2019.8]
trend_0709_ph = [5.90, 6.09, 6.32, 6.48, 6.61, 6.65, 6.63, 6.59, 6.59, 6.60, 6.66, 6.78, 6.94, 7.09, 7.20, 7.29, 7.33]

sites = ["WQN0104", "WQN0410", "WQN0429", "WQN0434", "WQN0709"]
titles = ["WQN 104 - W Br Delaware Rvr", "WQN 410 - Pine Crk - Waterville", "WQN 429 - Little Pine Crk",
          "WQN 434 - Kettle Crk", "WQN 709 - Youghiogheny Rvr @ Confluence"]
colors = ["#0D0887", "#7E03A8", "#CC4678", "#F89441", "#F0F921"]
point_sets = [wqn0104_pts, wqn0410_pts, wqn0429_pts, wqn0434_pts, wqn0709_pts]
trends = [(trend_0104_year, trend_0104_ph), (trend_0410_year, trend_0410_ph), (trend_0429_year, trend_0429_ph),
          (trend_0434_year, trend_0434_ph), (trend_0709_year, trend_0709_ph)]
ylims = [(5.79, 8.255), (5.69, 8.265), (5.69, 8.28), (5.28, 8.17), (4.11, 8.13)]
yticks = [[6.0, 6.5, 7.0, 7.5, 8.0]] * 3 + [[6, 7, 8], [5, 6, 7, 8]]
yfmt = ["%.1f"] * 3 + ["%d", "%d"]

sns.set_theme(style="white")
plt.rcParams["font.family"] = ["Liberation Sans", "DejaVu Sans"]

W, H = 1899, 883
fig = plt.figure(figsize=(W / 100, H / 100), dpi=100)

# panel boxes in pixels: (left, top, bottom)
col_left = [80, 1020]
panel_w = 887
rows = [(45, 248), (298, 501), (552, 757)]
strip_h = 36
layout = [(0, 0), (1, 0), (0, 1), (1, 1), (0, 2)]  # (col, row)
show_x = [False, False, False, True, True]

for i, site in enumerate(sites):
    c, r = layout[i]
    x0 = col_left[c]
    top, bot = rows[r]
    ax = fig.add_axes([x0 / W, 1 - bot / H, panel_w / W, (bot - top) / H])
    df = pd.DataFrame(point_sets[i], columns=["year", "ph"])
    sns.scatterplot(data=df, x="year", y="ph", ax=ax, color=colors[i], edgecolor="black",
                    linewidth=0.6, alpha=0.8, s=38, zorder=3)
    tr = pd.DataFrame({"year": trends[i][0], "ph": trends[i][1]})
    sns.lineplot(data=tr, x="year", y="ph", ax=ax, color=colors[i], lw=2.4, zorder=4)

    ax.set_xlim(1946.88, 2023.2)
    ax.set_ylim(*ylims[i])
    ax.set_xticks([1960, 1980, 2000, 2020])
    ax.set_yticks(yticks[i])
    ax.yaxis.set_major_formatter(FormatStrFormatter(yfmt[i]))
    ax.grid(True, color="#EBEBEB", lw=1.1, zorder=0)
    ax.set_axisbelow(True)
    for sp in ax.spines.values():
        sp.set_color("#333333")
        sp.set_linewidth(1.0)
    ax.set_xlabel("")
    ax.set_ylabel("")
    ax.tick_params(axis="y", length=3.5, width=0.8, color="#333333", labelsize=11.5,
                   labelcolor="#4D4D4D", pad=2, left=True)
    if show_x[i]:
        ax.tick_params(axis="x", length=3.5, width=0.8, color="#333333", labelsize=11.5,
                       labelcolor="#4D4D4D", pad=6, bottom=True)
    else:
        ax.tick_params(axis="x", bottom=False, labelbottom=False)

    # facet strip
    sx = fig.add_axes([x0 / W, 1 - top / H, panel_w / W, strip_h / H])
    sx.set_facecolor("#D9D9D9")
    sx.set_xticks([])
    sx.set_yticks([])
    for sp in sx.spines.values():
        sp.set_color("#333333")
        sp.set_linewidth(1.0)
    sx.text(0.5, 0.5, titles[i], ha="center", va="center", fontsize=12, color="#1A1A1A",
            transform=sx.transAxes)

fig.text(995 / W, 1 - 803 / H, "Date", ha="center", va="center", fontsize=13.5, color="black")
fig.text(22 / W, 1 - 433 / H, "pH (S.U.)", ha="center", va="center", rotation=90, fontsize=14, color="black")

handles = [Line2D([0], [0], color=col, lw=2.6, marker="o", markersize=6, markerfacecolor=col,
                  markeredgecolor="black", markeredgewidth=0.5) for col in colors]
fig.legend(handles, sites, loc="center", bbox_to_anchor=(1000 / W, 1 - 836 / H), ncol=5, frameon=False,
           fontsize=12.5, handlelength=1.9, columnspacing=1.65, handletextpad=0.6)

fig.savefig("out.png", dpi=100)
